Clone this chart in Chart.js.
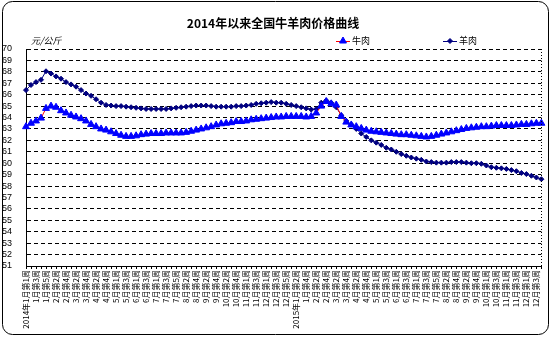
<!DOCTYPE html>
<html>
<head>
<meta charset="utf-8">
<script src="https://cdn.jsdelivr.net/npm/chart.js@4.4.1/dist/chart.umd.min.js"></script>
<style>
  html, body { margin: 0; padding: 0; background: #fff; }
  #wrap { width: 552px; height: 337px; position: relative; }
</style>
</head>
<body>
<div id="wrap"><canvas id="c"></canvas></div>
<script>
// weekly categories: weeks counted per month (2015 runs to Dec week 4)
const years = [2014, 2015];
const weeksPerMonth = [
  [5, 4, 4, 5, 4, 4, 5, 4, 4, 5, 4, 5],
  [4, 4, 4, 5, 4, 4, 5, 4, 5, 4, 4, 4]
];

// 牛肉 (yuan/kg)
const beef = [
  63.2, 63.5, 63.7, 63.95, 64.8, 65.0, 64.9, 64.6, 64.4, 64.2,
  64.05, 63.9, 63.7, 63.4, 63.2, 63.0, 62.9, 62.75, 62.6, 62.45,
  62.35, 62.35, 62.4, 62.5, 62.55, 62.6, 62.6, 62.6, 62.65, 62.65,
  62.65, 62.65, 62.7, 62.8, 62.9, 63.0, 63.1, 63.2, 63.35, 63.45,
  63.5, 63.55, 63.65, 63.65, 63.7, 63.8, 63.85, 63.9, 63.95, 64.0,
  64.05, 64.05, 64.1, 64.1, 64.1, 64.1, 64.05, 64.1, 64.4, 65.0,
  65.4, 65.2, 65.1, 64.1, 63.6, 63.35, 63.2, 63.05, 62.9, 62.8,
  62.75, 62.7, 62.65, 62.6, 62.55, 62.5, 62.5, 62.45, 62.4, 62.35,
  62.3, 62.35, 62.45, 62.55, 62.65, 62.75, 62.85, 62.95, 63.05, 63.1,
  63.15, 63.2, 63.2, 63.25, 63.3, 63.3, 63.3, 63.3, 63.35, 63.4,
  63.4, 63.45, 63.5, 63.5
];

// 羊肉 (yuan/kg)
const mutton = [
  66.4, 66.85, 67.1, 67.3, 68.05, 67.85, 67.6, 67.4, 67.1, 66.9,
  66.7, 66.4, 66.1, 65.9, 65.6, 65.3, 65.1, 65.05, 65.0, 65.0,
  64.95, 64.9, 64.85, 64.8, 64.75, 64.75, 64.75, 64.75, 64.75, 64.8,
  64.85, 64.9, 64.95, 65.0, 65.05, 65.05, 65.05, 65.0, 64.95, 64.95,
  64.95, 64.95, 65.0, 65.0, 65.05, 65.1, 65.2, 65.25, 65.3, 65.35,
  65.3, 65.3, 65.2, 65.1, 65.0, 64.9, 64.8, 64.7, 64.75, 65.3,
  65.5, 65.3, 64.9, 64.2, 63.7, 63.4, 63.0, 62.6, 62.3, 62.0,
  61.8, 61.6, 61.35, 61.2, 61.0, 60.8, 60.65, 60.5, 60.4, 60.3,
  60.15, 60.1, 60.05, 60.05, 60.05, 60.1, 60.1, 60.1, 60.05, 60.0,
  60.0, 59.95, 59.8, 59.65, 59.6, 59.55, 59.5, 59.4, 59.3, 59.15,
  59.05, 58.9, 58.75, 58.6
];

const yMin = 51;
const yMax = 70;
const yStep = 1;

const labels = [];
years.forEach((yr, yi) => {
  weeksPerMonth[yi].forEach((n, mi) => {
    for (let w = 1; w <= n; w++) {
      const pre = (mi === 0 && w === 1) ? yr + '年' : '';
      labels.push(pre + (mi + 1) + '月第' + w + '周');
    }
  });
});
// 2015 starts with week 1 unlabeled, so carry the year onto the next shown label
const firstOf2015 = weeksPerMonth[0].reduce((a, b) => a + b, 0);
labels[firstOf2015 + 1] = years[1] + '年' + labels[firstOf2015 + 1];

const CJK = '"Noto Sans CJK SC", "Noto Sans", sans-serif';

const frame = {
  id: 'frame',
  beforeDraw(chart) {
    const ctx = chart.ctx;
    ctx.save();
    ctx.fillStyle = '#fff';
    ctx.fillRect(0, 0, chart.width, chart.height);
    ctx.restore();
  },
  afterDraw(chart) {
    const { ctx, chartArea: a } = chart;
    ctx.save();
    ctx.strokeStyle = '#000';
    ctx.lineWidth = 1;
    // outer chart border
    ctx.beginPath();
    ctx.roundRect(2.5, 1.5, 546, 333, 10);
    ctx.stroke();
    // dotted right edge of plot area
    ctx.setLineDash([1, 2]);
    ctx.beginPath();
    ctx.moveTo(Math.round(a.right) + 0.5, a.top);
    ctx.lineTo(Math.round(a.right) + 0.5, a.bottom);
    ctx.stroke();
    ctx.setLineDash([]);

    // unit
    ctx.fillStyle = '#000';
    ctx.font = 'italic 9px ' + CJK;
    ctx.textAlign = 'left';
    ctx.textBaseline = 'middle';
    ctx.fillText('元/公斤', 31, 41);

    // legend
    const lx = [336, 443];
    chart.data.datasets.forEach((ds, i) => {
      const x = lx[i], y = 41;
      ctx.strokeStyle = ds.borderColor;
      ctx.lineWidth = 1;
      ctx.beginPath();
      ctx.moveTo(x, y + 0.5);
      ctx.lineTo(x + 14, y + 0.5);
      ctx.stroke();
      ctx.fillStyle = ds.pointBackgroundColor;
      ctx.strokeStyle = ds.pointBorderColor;
      Chart.helpers.drawPoint(ctx, {
        pointStyle: ds.pointStyle, radius: ds.pointRadius, rotation: 0, borderWidth: 1
      }, x + 7, y);
      ctx.fillStyle = '#000';
      ctx.font = '9px ' + CJK;
      ctx.fillText(ds.label, x + 16, y);
    });
    ctx.restore();
  }
};

new Chart(document.getElementById('c'), {
  type: 'line',
  data: {
    labels: labels,
    datasets: [
      {
        label: '牛肉',
        data: beef,
        borderColor: '#ff0000',
        borderWidth: 1,
        pointStyle: 'triangle',
        pointRadius: 4,
        pointBackgroundColor: '#0000ff',
        pointBorderColor: '#0000ff',
        pointBorderWidth: 1,
        tension: 0
      },
      {
        label: '羊肉',
        data: mutton,
        borderColor: '#000080',
        borderWidth: 1,
        pointStyle: 'rectRot',
        pointRadius: 2.5,
        pointBackgroundColor: '#000080',
        pointBorderColor: '#000080',
        pointBorderWidth: 1,
        tension: 0
      }
    ]
  },
  options: {
    responsive: true,
    maintainAspectRatio: false,
    animation: false,
    layout: { padding: { left: 2, right: 8, top: 0, bottom: 0 } },
    plugins: {
      legend: { display: false },
      tooltip: { enabled: false },
      title: {
        display: true,
        text: '2014年以来全国牛羊肉价格曲线',
        color: '#000',
        font: { family: CJK, size: 12, weight: 'bold' },
        padding: { top: 16, bottom: 18.6 }
      }
    },
    scales: {
      x: {
        type: 'category',
        offset: false,
        grid: {
          display: true,
          drawOnChartArea: false,
          drawTicks: true,
          tickLength: 3,
          color: '#000'
        },
        border: { display: true, color: '#000', width: 1 },
        ticks: {
          autoSkip: false,
          maxRotation: 90,
          minRotation: 90,
          padding: 1,
          color: '#000',
          font: { family: CJK, size: 8 },
          callback: function (v, i) { return i % 2 === 0 ? this.getLabelForValue(v) : ''; }
        },
        afterFit: (s) => { s.height = 71; }
      },
      y: {
        min: yMin,
        max: yMax,
        grid: {
          color: '#000',
          lineWidth: 1,
          drawTicks: false
        },
        border: { display: true, color: '#000', width: 1, dash: [4, 3] },
        ticks: {
          stepSize: yStep,
          autoSkip: false,
          crossAlign: 'far',
          padding: 0,
          color: '#000',
          font: { family: '"Liberation Sans", Arial, sans-serif', size: 9 }
        },
        afterFit: (s) => { s.width = 24; }
      }
    }
  },
  plugins: [frame]
});
</script>
</body>
</html>
